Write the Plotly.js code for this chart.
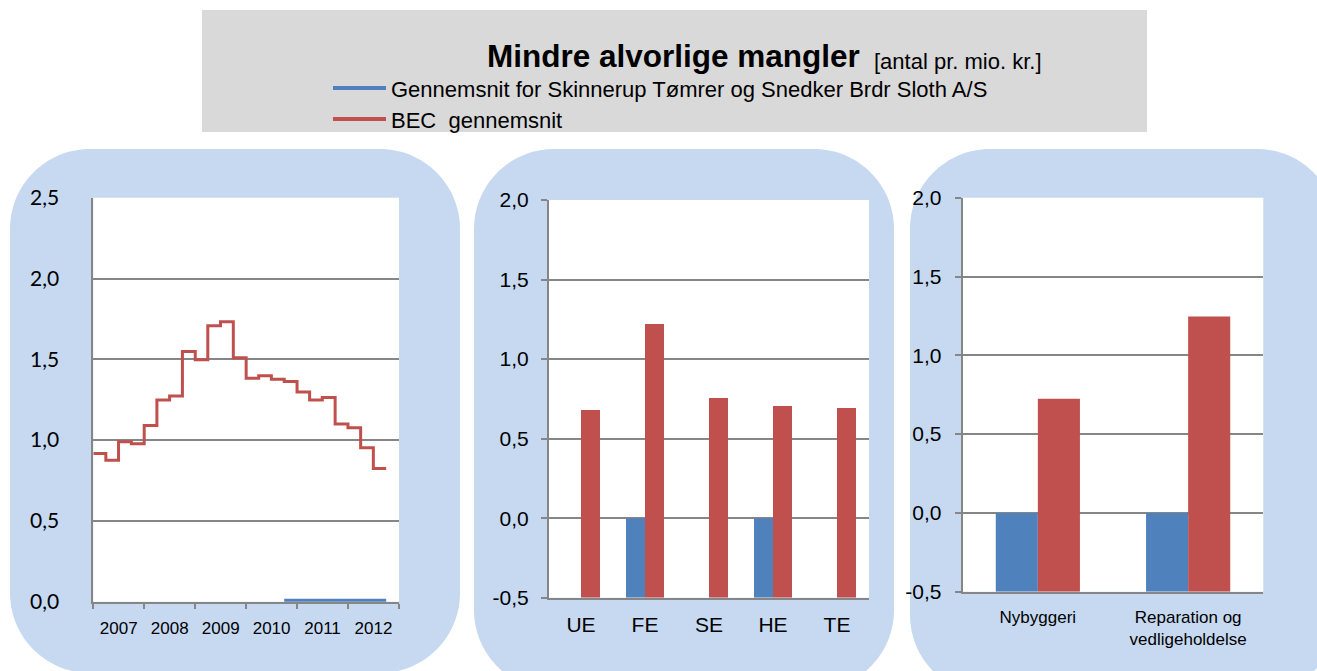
<!DOCTYPE html>
<html>
<head>
<meta charset="utf-8">
<script src="https://cdn.plot.ly/plotly-3.0.1.min.js"></script>
<style>html,body{margin:0;padding:0;background:#fff;}#chart{width:1317px;height:671px;}</style>
</head>
<body>
<div id="chart"></div>
<script>
// ---------- DATA ----------
const titleMain = 'Mindre alvorlige mangler';
const titleUnit = '[antal pr. mio. kr.]';
const seriesNames = ['Gennemsnit for Skinnerup Tømrer og Snedker Brdr Sloth A/S', 'BEC  gennemsnit'];

// Left panel: quarterly development (quarter start dates)
const quarters = ['2007-01-01','2007-04-01','2007-07-01','2007-10-01',
                  '2008-01-01','2008-04-01','2008-07-01','2008-10-01',
                  '2009-01-01','2009-04-01','2009-07-01','2009-10-01',
                  '2010-01-01','2010-04-01','2010-07-01','2010-10-01',
                  '2011-01-01','2011-04-01','2011-07-01','2011-10-01',
                  '2012-01-01','2012-04-01','2012-07-01'];
const becQuarterly = [0.917, 0.876, 0.990, 0.978, 1.090, 1.248, 1.273, 1.549,
                      1.497, 1.708, 1.733, 1.509, 1.383, 1.398, 1.377, 1.362,
                      1.298, 1.248, 1.263, 1.099, 1.077, 0.953, 0.824];
const companyQuarterly = [null, null, null, null, null, null, null, null,
                          null, null, null, null, null, null, null, 0,
                          0, 0, 0, 0, 0, 0, 0];
const leftTickVals = [0, 0.5, 1.0, 1.5, 2.0, 2.5];
const leftTickText = ['0,0', '0,5', '1,0', '1,5', '2,0', '2,5'];

// Middle panel: by trade
const trades = ['UE', 'FE', 'SE', 'HE', 'TE'];
const becTrades = [0.68, 1.22, 0.755, 0.705, 0.692];
const companyTrades = [null, 0, null, 0, null];

// Right panel: by type of work
const workTypes = ['Nybyggeri', 'Reparation og<br>vedligeholdelse'];
const becWork = [0.725, 1.246];
const companyWork = [0, 0];

const barTickVals = [-0.5, 0, 0.5, 1.0, 1.5, 2.0];
const barTickText = ['-0,5', '0,0', '0,5', '1,0', '1,5', '2,0'];

// ---------- STYLE ----------
const W = 1317, H = 671;
const BLUE = '#4f81bd', RED = '#c0504d', GRID = '#868686', PANEL = '#c6d9f1';
const ARIAL = 'Liberation Sans, Arial, sans-serif';
const px = x => x / W;
const py = y => 1 - y / H;

function nextQuarter(d) {
  const dt = new Date(d + 'T00:00:00Z');
  dt.setUTCMonth(dt.getUTCMonth() + 3);
  return dt.toISOString().slice(0, 10);
}
// step line: each quarter value held until the start of the next quarter
function stepX(xs) { return xs.concat([nextQuarter(xs[xs.length - 1])]); }
function stepY(ys) { return ys.concat([ys[ys.length - 1]]); }

function roundRect(x0, y0, x1, y1, r) {
  const k = 0.5523 * r;
  const P = (x, y) => px(x).toFixed(5) + ',' + py(y).toFixed(5);
  return 'M' + P(x0 + r, y0) + ' L' + P(x1 - r, y0) +
    ' C' + P(x1 - r + k, y0) + ' ' + P(x1, y0 + r - k) + ' ' + P(x1, y0 + r) +
    ' L' + P(x1, y1 - r) +
    ' C' + P(x1, y1 - r + k) + ' ' + P(x1 - r + k, y1) + ' ' + P(x1 - r, y1) +
    ' L' + P(x0 + r, y1) +
    ' C' + P(x0 + r - k, y1) + ' ' + P(x0, y1 - r + k) + ' ' + P(x0, y1 - r) +
    ' L' + P(x0, y0 + r) +
    ' C' + P(x0, y0 + r - k) + ' ' + P(x0 + r - k, y0) + ' ' + P(x0 + r, y0) + ' Z';
}

const BAR_MIN = -0.5;
const toBar = arr => arr.map(v => v === null ? null : v - BAR_MIN);

const traces = [
  // left panel
  {type: 'scatter', mode: 'lines', x: stepX(quarters), y: stepY(becQuarterly), line: {shape: 'hv', color: RED, width: 3},
   xaxis: 'x', yaxis: 'y', name: seriesNames[1], hoverinfo: 'skip'},
  {type: 'scatter', mode: 'lines', x: stepX(quarters), y: stepY(companyQuarterly), line: {shape: 'hv', color: BLUE, width: 6},
   xaxis: 'x', yaxis: 'y', name: seriesNames[0], connectgaps: false, hoverinfo: 'skip'},
  // middle panel
  {type: 'bar', x: trades, y: toBar(companyTrades), base: BAR_MIN, offset: -0.297, width: 0.297,
   marker: {color: BLUE}, xaxis: 'x2', yaxis: 'y2', name: seriesNames[0]},
  {type: 'bar', x: trades, y: toBar(becTrades), base: BAR_MIN, offset: 0, width: 0.297,
   marker: {color: RED}, xaxis: 'x2', yaxis: 'y2', name: seriesNames[1]},
  // right panel
  {type: 'bar', x: workTypes, y: toBar(companyWork), base: BAR_MIN, offset: -0.28, width: 0.28,
   marker: {color: BLUE}, xaxis: 'x3', yaxis: 'y3', name: seriesNames[0]},
  {type: 'bar', x: workTypes, y: toBar(becWork), base: BAR_MIN, offset: 0, width: 0.28,
   marker: {color: RED}, xaxis: 'x3', yaxis: 'y3', name: seriesNames[1]}
];

const yCommon = {
  tickmode: 'array', showgrid: true, gridcolor: GRID, gridwidth: 2,
  showline: true, linecolor: GRID, linewidth: 2, zeroline: false, fixedrange: true
};
const xCommon = {showline: true, linecolor: GRID, linewidth: 2, showgrid: false, zeroline: false, fixedrange: true};

const layout = {
  width: W, height: H,
  margin: {l: 0, r: 0, t: 0, b: 0},
  paper_bgcolor: '#ffffff', plot_bgcolor: '#ffffff',
  showlegend: false,
  separators: ', ',
  barmode: 'overlay',
  font: {family: ARIAL, color: '#000000'},
  xaxis: Object.assign({}, xCommon, {
    type: 'date', domain: [px(93.3), px(399)], anchor: 'y',
    range: ['2007-01-01', '2013-01-01'], tick0: '2007-01-01', dtick: 'M12', tickformat: '%Y',
    ticklabelmode: 'period', ticks: 'outside', ticklen: 5, tickwidth: 2, tickcolor: GRID,
    tickfont: {family: ARIAL, size: 17, color: '#000'}, ticklabelstandoff: 5
  }),
  yaxis: Object.assign({}, yCommon, {
    domain: [py(601.7), py(197.7)], anchor: 'x', range: [0, 2.5], ticks: '',
    tickvals: leftTickVals, ticktext: leftTickText,
    tickfont: {family: 'Lato, sans-serif', size: 21, color: '#000'}, ticklabelstandoff: 28
  }),
  xaxis2: Object.assign({}, xCommon, {
    type: 'category', domain: [px(549), px(869)], anchor: 'y2', ticks: '',
    tickfont: {family: ARIAL, size: 21, color: '#000'}, ticklabelstandoff: 7
  }),
  yaxis2: Object.assign({}, yCommon, {
    domain: [py(597.7), py(200)], anchor: 'x2', range: [-0.5, 2.0],
    tickvals: barTickVals, ticktext: barTickText,
    ticks: 'outside', ticklen: 6, tickwidth: 2, tickcolor: GRID,
    tickfont: {family: ARIAL, size: 21, color: '#000'}, ticklabelstandoff: 8
  }),
  xaxis3: Object.assign({}, xCommon, {
    type: 'category', domain: [px(962.7), px(1263.3)], anchor: 'y3', ticks: '',
    tickfont: {family: ARIAL, size: 17, color: '#000'}, ticklabelstandoff: 9
  }),
  yaxis3: Object.assign({}, yCommon, {
    domain: [py(591.7), py(197.7)], anchor: 'x3', range: [-0.5, 2.0],
    tickvals: barTickVals, ticktext: barTickText,
    ticks: 'outside', ticklen: 6, tickwidth: 2, tickcolor: GRID,
    tickfont: {family: ARIAL, size: 21, color: '#000'}, ticklabelstandoff: 9
  }),
  shapes: [
    // title box
    {type: 'rect', xref: 'paper', yref: 'paper', x0: px(202), x1: px(1147), y0: py(132), y1: py(10),
     fillcolor: '#d9d9d9', line: {width: 0}, layer: 'below'},
    // rounded panels
    {type: 'path', xref: 'paper', yref: 'paper', path: roundRect(10, 149, 460, 673, 80), fillcolor: PANEL, line: {width: 0}, layer: 'below'},
    {type: 'path', xref: 'paper', yref: 'paper', path: roundRect(474, 149, 894, 690, 80), fillcolor: PANEL, line: {width: 0}, layer: 'below'},
    {type: 'path', xref: 'paper', yref: 'paper', path: roundRect(910, 149, 1337, 695, 80), fillcolor: PANEL, line: {width: 0}, layer: 'below'},
    // white plot areas
    {type: 'rect', xref: 'x domain', yref: 'y domain', x0: 0, x1: 1, y0: 0, y1: 1, fillcolor: '#fff', line: {width: 0}, layer: 'below'},
    {type: 'rect', xref: 'x2 domain', yref: 'y2 domain', x0: 0, x1: 1, y0: 0, y1: 1, fillcolor: '#fff', line: {width: 0}, layer: 'below'},
    {type: 'rect', xref: 'x3 domain', yref: 'y3 domain', x0: 0, x1: 1, y0: 0, y1: 1, fillcolor: '#fff', line: {width: 0}, layer: 'below'},
    // legend line samples
    {type: 'line', xref: 'paper', yref: 'paper', x0: px(333), x1: px(386), y0: py(88), y1: py(88), line: {color: BLUE, width: 4}},
    {type: 'line', xref: 'paper', yref: 'paper', x0: px(333), x1: px(386), y0: py(119), y1: py(119), line: {color: RED, width: 4}}
  ],
  annotations: [
    {xref: 'paper', yref: 'paper', x: px(485), y: py(56), xanchor: 'left', yanchor: 'middle', showarrow: false,
     text: '<b>' + titleMain + '</b>', font: {family: ARIAL, size: 31.5, color: '#000'}},
    {xref: 'paper', yref: 'paper', x: px(872), y: py(61), xanchor: 'left', yanchor: 'middle', showarrow: false,
     text: titleUnit, font: {family: ARIAL, size: 22, color: '#000'}},
    {xref: 'paper', yref: 'paper', x: px(389), y: py(89), xanchor: 'left', yanchor: 'middle', showarrow: false,
     text: seriesNames[0], font: {family: ARIAL, size: 22, color: '#000'}},
    {xref: 'paper', yref: 'paper', x: px(389), y: py(120), xanchor: 'left', yanchor: 'middle', showarrow: false,
     text: seriesNames[1], font: {family: ARIAL, size: 22, color: '#000'}}
  ]
};

Plotly.newPlot('chart', traces, layout, {displayModeBar: false, staticPlot: true});
</script>
</body>
</html>
